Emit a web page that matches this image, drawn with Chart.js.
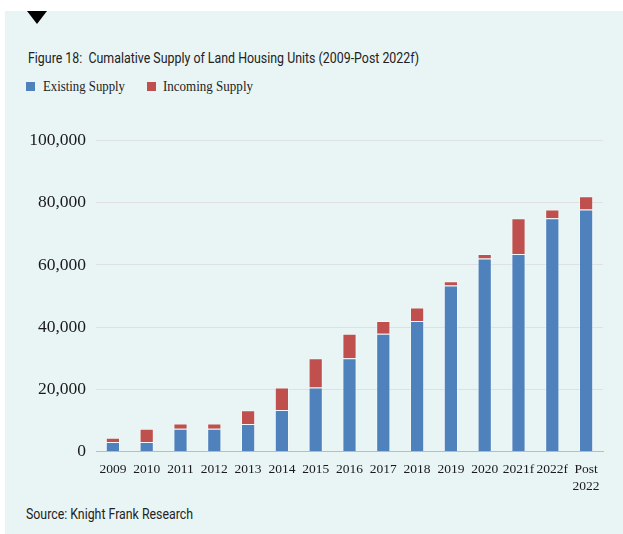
<!DOCTYPE html>
<html lang="en">
<head>
    <meta charset="UTF-8">
    <title>Cumulative Supply of Land Housing Units</title>
    <script src="https://cdn.jsdelivr.net/npm/chart.js"></script>
    <style>
        body {
            margin: 0;
            width: 623px;
            height: 534px;
            overflow: hidden;
            background: #ffffff;
            position: relative;
        }
        #panel {
            position: absolute;
            left: 5px;
            top: 11px;
            right: 0;
            bottom: 0;
            background: #e9f5f5;
        }
        #tri {
            position: absolute;
            left: 27px;
            top: 11px;
            width: 0;
            height: 0;
            border-left: 10px solid transparent;
            border-right: 10px solid transparent;
            border-top: 13px solid #000;
        }
        .fit {
            position: absolute;
            white-space: nowrap;
            font-family: Roboto, "Open Sans", sans-serif;
            font-size: 14px;
            line-height: 16px;
            color: #222;
            transform-origin: left center;
        }
        #title { left: 28px; top: 50px; }
        #source { left: 26px; top: 506px; }
        .legend {
            position: absolute;
            top: 78px;
            font-family: "Liberation Serif", serif;
            font-size: 15px;
            line-height: 16px;
            color: #222;
        }
        .box {
            position: absolute;
            top: 82px;
            width: 9px;
            height: 9px;
        }
        #wrap {
            position: absolute;
            left: 0;
            top: 120px;
            width: 623px;
            height: 380px;
        }
    </style>
</head>
<body>
    <div id="panel"></div>
    <div id="tri"></div>
    <div id="title" class="fit" data-w="391">Figure 18:&nbsp; Cumalative Supply of Land Housing Units (2009-Post 2022f)</div>
    <div class="box" style="left:26px;background:#4f81bd"></div>
    <div class="fit legend" style="left:43px" data-w="82">Existing Supply</div>
    <div class="box" style="left:147px;background:#c0504d"></div>
    <div class="fit legend" style="left:163px" data-w="90">Incoming Supply</div>
    <div id="wrap"><canvas id="chart" width="623" height="380"></canvas></div>
    <div id="source" class="fit" data-w="167">Source: Knight Frank Research</div>

    <script>
        const years = ['2009', '2010', '2011', '2012', '2013', '2014', '2015', '2016', '2017', '2018', '2019', '2020', '2021f', '2022f', ['Post', '2022']];
        const existingSupply = [3100, 3100, 7400, 7400, 8900, 13400, 20600, 30000, 37900, 42000, 53400, 62100, 63500, 75000, 77800];
        const incomingSupply = [1400, 4300, 1700, 1700, 4400, 7200, 9400, 7900, 4100, 4300, 1400, 1400, 11500, 2800, 4300];
        const yTicks = [0, 20000, 40000, 60000, 80000, 100000];

        // squeeze the texts to the width of the condensed original fonts
        document.querySelectorAll('.fit').forEach(el => {
            let w = el.getBoundingClientRect().width;
            el.style.transform = 'scaleX(' + (el.dataset.w / w) + ')';
        });

        let chart = new Chart(document.getElementById('chart'), {
            type: 'bar',
            data: {
                labels: years,
                datasets: [
                    { label: 'Existing Supply', data: existingSupply, backgroundColor: '#4f81bd', borderColor: 'rgba(255,255,255,0.35)', borderWidth: 1 },
                    { label: 'Incoming Supply', data: incomingSupply, backgroundColor: '#c0504d', borderColor: 'rgba(255,255,255,0.35)', borderWidth: 1 }
                ]
            },
            options: {
                responsive: false,
                animation: false,
                devicePixelRatio: 1,
                layout: { padding: { left: 0, right: 20, top: 17.3, bottom: 0 } },
                plugins: { legend: { display: false }, tooltip: { enabled: false } },
                datasets: { bar: { categoryPercentage: 1, barPercentage: 0.42 } },
                scales: {
                    x: {
                        stacked: true,
                        grid: { display: false, drawTicks: false },
                        border: { display: true, color: '#b9bdc0', width: 1 },
                        ticks: {
                            padding: 9,
                            maxRotation: 0,
                            autoSkip: false,
                            color: '#1a1a1a',
                            font: { family: 'Liberation Serif', size: 13.5, lineHeight: 1.28 }
                        },
                        afterFit: s => { s.height = 48.3; }
                    },
                    y: {
                        stacked: true,
                        min: 0,
                        max: 100000,
                        afterBuildTicks: s => { s.ticks = yTicks.map(v => ({ value: v })); },
                        grid: {
                            drawTicks: false,
                            color: c => c.tick && c.tick.value === 0 ? '#b9bdc0' : '#dfe0e6'
                        },
                        border: { display: false },
                        ticks: {
                            padding: 10,
                            color: '#1a1a1a',
                            font: { family: 'Liberation Serif', size: 17.5 },
                            callback: v => v.toLocaleString('en-US')
                        },
                        afterFit: s => { s.width = 96; }
                    }
                }
            }
        });
    </script>
</body>
</html>
